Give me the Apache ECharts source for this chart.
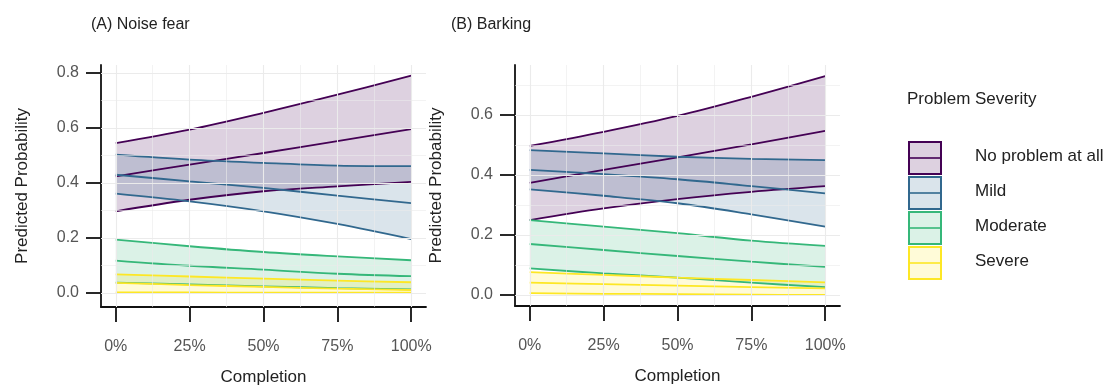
<!DOCTYPE html>
<html>
<head>
<meta charset="utf-8">
<script src="https://cdn.jsdelivr.net/npm/echarts@6/dist/echarts.min.js"></script>
<style>
  html, body { margin: 0; padding: 0; background: #fff; }
  #chart { width: 1116px; height: 387px; }
</style>
</head>
<body>
<div id="chart"></div>
<script>
// ---------- data ----------
const completion = [0, 25, 50, 75, 100];
const xTicks = [0, 25, 50, 75, 100];
const yTicksA = [0, 0.2, 0.4, 0.6, 0.8];
const yTicksB = [0, 0.2, 0.4, 0.6];
const severityLevels = ['No problem at all', 'Mild', 'Moderate', 'Severe'];
const severityColors = ['#440154', '#31688E', '#35B779', '#FDE725'];
const panelTitles = ['(A) Noise fear', '(B) Barking'];

// Panel A: Noise fear
const noProbA_lo  = [0.297, 0.339, 0.370, 0.388, 0.404];
const noProbA_mid = [0.424, 0.467, 0.509, 0.552, 0.596];
const noProbA_hi  = [0.545, 0.594, 0.655, 0.721, 0.790];
const mildA_lo  = [0.361, 0.333, 0.297, 0.251, 0.196];
const mildA_mid = [0.430, 0.406, 0.382, 0.354, 0.327];
const mildA_hi  = [0.503, 0.485, 0.473, 0.463, 0.461];
const moderateA_lo  = [0.038, 0.031, 0.024, 0.018, 0.013];
const moderateA_mid = [0.118, 0.099, 0.085, 0.070, 0.061];
const moderateA_hi  = [0.194, 0.170, 0.149, 0.133, 0.119];
const severeA_lo  = [0.002, 0.002, 0.001, 0.001, 0.001];
const severeA_mid = [0.037, 0.029, 0.022, 0.016, 0.011];
const severeA_hi  = [0.068, 0.060, 0.052, 0.045, 0.039];

// Panel B: Barking
const noProbB_lo  = [0.250, 0.289, 0.320, 0.344, 0.363];
const noProbB_mid = [0.374, 0.417, 0.459, 0.502, 0.547];
const noProbB_hi  = [0.497, 0.544, 0.597, 0.661, 0.730];
const mildB_lo  = [0.352, 0.331, 0.306, 0.269, 0.228];
const mildB_mid = [0.417, 0.403, 0.386, 0.363, 0.339];
const mildB_hi  = [0.483, 0.472, 0.461, 0.454, 0.450];
const moderateB_lo  = [0.089, 0.072, 0.058, 0.041, 0.026];
const moderateB_mid = [0.170, 0.150, 0.130, 0.111, 0.094];
const moderateB_hi  = [0.250, 0.228, 0.206, 0.181, 0.164];
const severeB_lo  = [0.006, 0.004, 0.003, 0.001, 0.000];
const severeB_mid = [0.041, 0.036, 0.031, 0.026, 0.022];
const severeB_hi  = [0.076, 0.067, 0.058, 0.050, 0.042];

// ---------- build ----------
const panels = [
  { lo: [noProbA_lo, mildA_lo, moderateA_lo, severeA_lo],
    mid: [noProbA_mid, mildA_mid, moderateA_mid, severeA_mid],
    hi: [noProbA_hi, mildA_hi, moderateA_hi, severeA_hi],
    yTicks: yTicksA, yMin: -0.0509, yMax: 0.829 },
  { lo: [noProbB_lo, mildB_lo, moderateB_lo, severeB_lo],
    mid: [noProbB_mid, mildB_mid, moderateB_mid, severeB_mid],
    hi: [noProbB_hi, mildB_hi, moderateB_hi, severeB_hi],
    yTicks: yTicksB, yMin: -0.0367, yMax: 0.767 }
];

// data stored as [y, x] so the stacked (first numeric) dimension is y
const pairsYX = (xs, ys) => xs.map((x, i) => [ys[i], x]);
const ENC = { x: 1, y: 0 };
const LW = 1.8;
const SMOOTH = 0.35;
const gridColor = '#ebebeb';

const grids = [
  { left: 101, top: 65, width: 325, height: 242, outerBoundsMode: 'none', containLabel: false },
  { left: 515, top: 65, width: 325, height: 241, outerBoundsMode: 'none', containLabel: false }
];

const xAxes = [], yAxes = [], series = [];

panels.forEach((p, pi) => {
  xAxes.push({
    type: 'value', gridIndex: pi, min: -5, max: 105,
    name: 'Completion', nameLocation: 'middle', nameGap: 62,
    nameTextStyle: { fontSize: 17, color: '#222', fontFamily: 'Liberation Sans' },
    axisLine: { show: true, onZero: false, lineStyle: { color: '#111', width: 1.8 } },
    axisTick: { show: true, customValues: xTicks, length: 15, lineStyle: { color: '#111', width: 1.8 } },
    axisLabel: { customValues: xTicks, formatter: v => v + '%', margin: 32,
      fontSize: 16, color: '#555', fontFamily: 'Liberation Sans' },
    splitLine: { show: false }
  });
  yAxes.push({
    type: 'value', gridIndex: pi, min: p.yMin, max: p.yMax,
    name: 'Predicted Probability', nameLocation: 'middle', nameGap: 70,
    nameTextStyle: { fontSize: 17, color: '#222', fontFamily: 'Liberation Sans' },
    axisLine: { show: true, onZero: false, lineStyle: { color: '#111', width: 1.8 } },
    axisTick: { show: true, customValues: p.yTicks, length: 15, lineStyle: { color: '#111', width: 1.8 } },
    axisLabel: { customValues: p.yTicks, formatter: v => v.toFixed(1), margin: 22,
      fontSize: 16, color: '#555', fontFamily: 'Liberation Sans' },
    splitLine: { show: false }
  });

  // grid lines (major + minor) from tick arrays
  const gl = [];
  const yStep = p.yTicks[1] - p.yTicks[0];
  const xStep = xTicks[1] - xTicks[0];
  p.yTicks.forEach(v => {
    gl.push({ yAxis: v, lineStyle: { width: 1.1 } });
    if (v + yStep / 2 < p.yMax) gl.push({ yAxis: v + yStep / 2, lineStyle: { width: 0.6 } });
  });
  xTicks.forEach((v, i) => {
    gl.push({ xAxis: v, lineStyle: { width: 1.1 } });
    if (i < xTicks.length - 1) gl.push({ xAxis: v + xStep / 2, lineStyle: { width: 0.6 } });
  });

  severityLevels.forEach((name, g) => {
    const c = severityColors[g];
    const stackId = 'p' + pi + 'g' + g;
    const lower = {
      type: 'line', name: name, xAxisIndex: pi, yAxisIndex: pi,
      data: pairsYX(completion, p.lo[g]), encode: ENC, stack: stackId, stackStrategy: 'all',
      smooth: SMOOTH, symbol: 'none', silent: true,
      lineStyle: { color: c, width: LW }, itemStyle: { color: c }
    };
    if (g === 0) {
      lower.markLine = {
        silent: true, symbol: ['none', 'none'], label: { show: false },
        lineStyle: { color: gridColor, type: 'solid' }, emphasis: { disabled: true },
        animation: false, data: gl
      };
    }
    series.push(lower);
    series.push({
      type: 'line', name: name, xAxisIndex: pi, yAxisIndex: pi,
      data: completion.map((x, i) => [p.hi[g][i] - p.lo[g][i], x]), encode: ENC,
      stack: stackId, stackStrategy: 'all',
      smooth: SMOOTH, symbol: 'none', silent: true,
      lineStyle: { color: c, width: LW }, itemStyle: { color: c },
      areaStyle: { color: c, opacity: 0.18 }
    });
    series.push({
      type: 'line', name: name, xAxisIndex: pi, yAxisIndex: pi,
      data: pairsYX(completion, p.mid[g]), encode: ENC,
      smooth: SMOOTH, symbol: 'none', silent: true,
      lineStyle: { color: c, width: LW }, itemStyle: { color: c }
    });
  });
});

// legend drawn as graphic keys (ribbon + line)
const legendGraphics = [
  { type: 'text', left: 907, top: 91,
    style: { text: 'Problem Severity', fontSize: 17, fill: '#222', fontFamily: 'Liberation Sans' } }
];
severityLevels.forEach((name, g) => {
  const c = severityColors[g];
  const top = 142 + g * 35;
  legendGraphics.push({
    type: 'rect', shape: { x: 909, y: top, width: 32, height: 32 },
    style: { fill: echarts.color.modifyAlpha(c, 0.18), stroke: c, lineWidth: 2 }
  });
  legendGraphics.push({
    type: 'line', shape: { x1: 909, y1: top + 16, x2: 941, y2: top + 16 },
    style: { stroke: c, lineWidth: 1.6 }
  });
  legendGraphics.push({
    type: 'text', left: 975, top: top + 6,
    style: { text: name, fontSize: 17, fill: '#222', fontFamily: 'Liberation Sans' }
  });
});

const option = {
  animation: false,
  backgroundColor: '#ffffff',
  title: [
    { text: panelTitles[0], left: 86, top: 12,
      textStyle: { fontSize: 16, fontWeight: 'normal', color: '#222', fontFamily: 'Liberation Sans' } },
    { text: panelTitles[1], left: 446, top: 12,
      textStyle: { fontSize: 16, fontWeight: 'normal', color: '#222', fontFamily: 'Liberation Sans' } }
  ],
  grid: grids,
  xAxis: xAxes,
  yAxis: yAxes,
  series: series,
  graphic: legendGraphics
};

const chart = echarts.init(document.getElementById('chart'), null, { renderer: 'canvas' });
chart.setOption(option);
</script>
</body>
</html>
